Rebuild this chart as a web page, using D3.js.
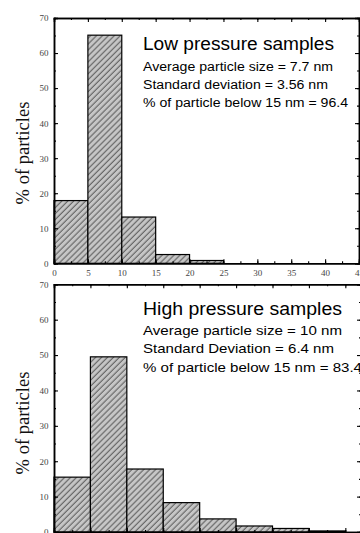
<!DOCTYPE html>
<html>
<head>
<meta charset="utf-8">
<script src="https://cdn.jsdelivr.net/npm/d3@7"></script>
<style>
  body { margin: 0; background: #fff; }
  svg { display: block; }
</style>
</head>
<body>
<svg width="360" height="533"></svg>
<script>
// low pressure histogram (bin start in nm, % of particles)
var lowBins = [0, 5, 10, 15, 20]
var lowPct = [17.9, 65.1, 13.2, 2.5, 0.8]
var lowText = ["Low pressure samples", "Average particle size = 7.7 nm",
  "Standard deviation = 3.56 nm", "% of particle below 15 nm = 96.4"]

// high pressure histogram
var highBins = [0, 5, 10, 15, 20, 25, 30, 35]
var highPct = [15.5, 49.5, 17.8, 8.3, 3.7, 1.7, 1.0, 0.3]
var highText = ["High pressure samples", "Average particle size = 10 nm",
  "Standard Deviation = 6.4 nm", "% of particle below 15 nm = 83.4"]

var binWidth = 5
var yTicks = [0, 10, 20, 30, 40, 50, 60, 70]
var xTicks = [0, 5, 10, 15, 20, 25, 30, 35, 40, 45]
var yLabel = "% of particles"

var svg = d3.select("svg")

var defs = svg.append("defs")
var pat = defs.append("pattern")
  .attr("id", "hatch")
  .attr("patternUnits", "userSpaceOnUse")
  .attr("width", 4.2).attr("height", 4.2)
  .attr("patternTransform", "rotate(45)")
pat.append("rect").attr("width", 4.2).attr("height", 4.2).attr("fill", "#c6c6c6")
pat.append("line").attr("x1", 1).attr("y1", 0).attr("x2", 1).attr("y2", 4.2)
  .attr("stroke", "#3a3a3a").attr("stroke-width", 0.8)

function panel(opt) {
  var x = d3.scaleLinear().domain([0, opt.xmax]).range([54, opt.right])
  var y = d3.scaleLinear().domain([0, 70]).range([opt.bottom, opt.top])
  var g = svg.append("g")

  g.selectAll("rect.bar").data(opt.bins).enter().append("rect")
    .attr("class", "bar")
    .attr("x", function(d) { return x(d) })
    .attr("width", function(d) { return x(d + binWidth) - x(d) })
    .attr("y", function(d, i) { return y(opt.pct[i]) })
    .attr("height", function(d, i) { return y(0) - y(opt.pct[i]) })
    .attr("fill", "url(#hatch)")
    .attr("stroke", "#000")
    .attr("stroke-width", 1.2)

  var minorX = d3.range(0, opt.xmax + 0.01, 2.5)
  var minorY = d3.range(0, 70.01, 5)
  var tickFont = function(sel) {
    sel.selectAll("text")
      .attr("font-family", "Liberation Serif, serif")
      .attr("font-size", 9)
      .attr("fill", "#444")
    sel.select(".domain").attr("stroke-width", 1.5)
    sel.selectAll(".tick line").attr("stroke-width", 1.1)
  }

  // minor ticks
  g.append("g").attr("transform", "translate(54,0)")
    .call(d3.axisLeft(y).tickValues(minorY).tickSize(-2).tickFormat("")).call(tickFont)
  g.append("g").attr("transform", "translate(" + opt.right + ",0)")
    .call(d3.axisRight(y).tickValues(minorY).tickSize(-2).tickFormat("")).call(tickFont)
  g.append("g").attr("transform", "translate(0," + opt.bottom + ")")
    .call(d3.axisBottom(x).tickValues(minorX).tickSize(-2).tickFormat("")).call(tickFont)
  g.append("g").attr("transform", "translate(0," + opt.top + ")")
    .call(d3.axisTop(x).tickValues(minorX).tickSize(-2).tickFormat("")).call(tickFont)

  // major ticks
  g.append("g").attr("transform", "translate(54,0)")
    .call(d3.axisLeft(y).tickValues(yTicks).tickSize(-4).tickPadding(5.5)).call(tickFont)
  g.append("g").attr("transform", "translate(" + opt.right + ",0)")
    .call(d3.axisRight(y).tickValues(yTicks).tickSize(-4).tickFormat("")).call(tickFont)
  var xb = g.append("g").attr("transform", "translate(0," + opt.bottom + ")")
    .call(d3.axisBottom(x).tickValues(xTicks.filter(function(v) { return v <= opt.xmax }))
      .tickSize(-4).tickPadding(6.5).tickFormat(opt.xLabels ? null : "")).call(tickFont)
  g.append("g").attr("transform", "translate(0," + opt.top + ")")
    .call(d3.axisTop(x).tickValues(xTicks.filter(function(v) { return v <= opt.xmax }))
      .tickSize(-4).tickFormat("")).call(tickFont)

  // y label
  g.append("text")
    .attr("transform", "translate(29," + opt.labelY + ") rotate(-90)")
    .attr("text-anchor", "middle")
    .attr("font-family", "Liberation Serif, serif")
    .attr("font-size", 18.5)
    .attr("fill", "#111")
    .text(yLabel)

  // annotation
  opt.text.forEach(function(t, i) {
    g.append("text")
      .attr("x", 143)
      .attr("y", opt.textY[i])
      .attr("font-family", "Liberation Sans, Arial, sans-serif")
      .attr("font-size", i == 0 ? 17.5 : opt.fs)
      .attr("textLength", opt.textW[i])
      .attr("lengthAdjust", "spacingAndGlyphs")
      .attr("fill", "#000")
      .text(t)
  })
}

panel({
  bins: lowBins, pct: lowPct, text: lowText,
  xmax: 45, right: 359, top: 18, bottom: 263.3, xLabels: true,
  labelY: 153, fs: 12.5,
  textY: [50, 71, 89, 107], textW: [191, 190, 185, 205]
})

panel({
  bins: highBins, pct: highPct, text: highText,
  xmax: 42.15, right: 361, top: 284.3, bottom: 532, xLabels: false,
  labelY: 423, fs: 13,
  textY: [314.5, 335, 353.3, 371.7], textW: [199, 199, 191, 219]
})
</script>
</body>
</html>
